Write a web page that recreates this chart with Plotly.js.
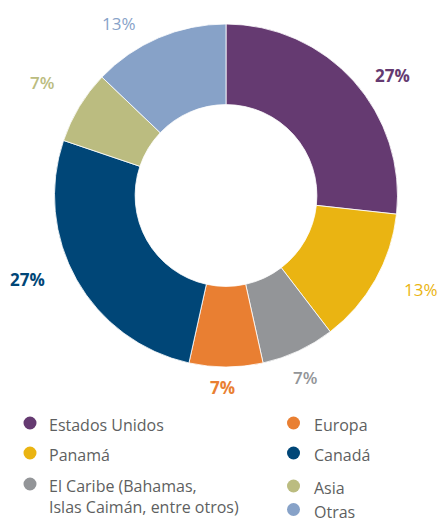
<!DOCTYPE html>
<html>
<head>
<meta charset="utf-8">
<script src="https://cdn.plot.ly/plotly-3.0.1.min.js"></script>
<style>html,body{margin:0;padding:0;background:#fff;}#chart{width:442px;height:520px;}</style>
</head>
<body>
<div id="chart"></div>
<script>
const categories = ["Estados Unidos", "Panamá", "El Caribe (Bahamas,<br>Islas Caimán, entre otros)", "Europa", "Canadá", "Asia", "Otras"];
const values = [27, 13, 7, 7, 27, 7, 13];
const colors = ["#653A71", "#EAB412", "#939598", "#E97F32", "#004677", "#BBBC80", "#87A2C8"];
const labelWeights = [700, 500, 600, 700, 700, 600, 500];

const W = 442, H = 520;
const cx = 226, cy = 195.5, R = 171.5;
const labelR = 207;
// per-label nudges (px) from the mid-angle anchor, to mimic the original label placement
const labelNudge = [[12, 18], [15, -8], [-8, -6], [-4, -15], [-18, -18], [-7, -6], [-26, 18]];

const total = values.reduce((a, b) => a + b, 0);
const annotations = [];
const shapes = [];
let cum = 0;
values.forEach((v, i) => {
  const mid = (cum + v / 2) / total * 2 * Math.PI;
  cum += v;
  const px = cx + labelR * Math.sin(mid) + labelNudge[i][0];
  const py = cy - labelR * Math.cos(mid) + labelNudge[i][1];
  annotations.push({
    x: px / W, y: 1 - py / H, xref: 'paper', yref: 'paper',
    text: v + '%', showarrow: false, xanchor: 'center', yanchor: 'middle',
    font: {family: 'Open Sans', size: 17, color: colors[i], weight: labelWeights[i]}
  });
});

// legend (two columns): [marker x, marker y, text x]
const legendPos = [
  [30, 423, 47], [30, 453, 47], [30, 484, 47],
  [293.5, 423, 312], [293.5, 453, 312], [293.5, 486, 312], [293.5, 509.5, 312]
];
categories.forEach((c, i) => {
  const [lx, ly, tx] = legendPos[i];
  shapes.push({
    type: 'circle', xref: 'paper', yref: 'paper',
    x0: (lx - 6.5) / W, x1: (lx + 6.5) / W,
    y0: 1 - (ly + 6.5) / H, y1: 1 - (ly - 6.5) / H,
    fillcolor: colors[i], line: {width: 0}
  });
  annotations.push({
    x: tx / W, y: 1 - (ly - 11) / H, xref: 'paper', yref: 'paper',
    text: c, showarrow: false, xanchor: 'left', yanchor: 'top', align: 'left',
    font: {family: 'Open Sans', size: 16, color: '#5E5F61'}
  });
});

const trace = {
  type: 'pie',
  labels: categories,
  values: values,
  sort: false,
  direction: 'clockwise',
  rotation: 0,
  hole: 0.53,
  textinfo: 'none',
  marker: {colors: colors, line: {color: '#ffffff', width: 0.8}},
  domain: {x: [(cx - R) / W, (cx + R) / W], y: [1 - (cy + R) / H, 1 - (cy - R) / H]},
  showlegend: false,
  hoverinfo: 'label+percent'
};

Plotly.newPlot('chart', [trace], {
  width: W, height: H,
  margin: {l: 0, r: 0, t: 0, b: 0},
  paper_bgcolor: '#ffffff',
  showlegend: false,
  annotations: annotations,
  shapes: shapes,
  font: {family: 'Open Sans'}
}, {displayModeBar: false, staticPlot: true});
</script>
</body>
</html>
